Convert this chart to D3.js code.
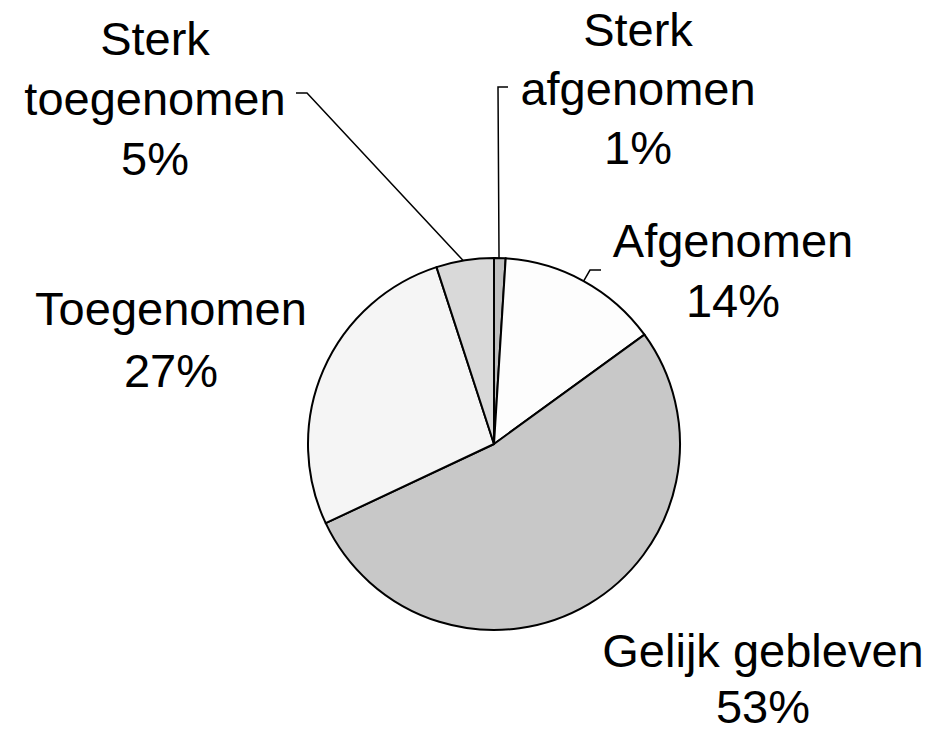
<!DOCTYPE html>
<html>
<head>
<meta charset="utf-8">
<title>pie</title>
<script src="https://d3js.org/d3.v7.min.js"></script>
<style>
  body { margin: 0; background: #fff; }
  text { font-family: "Liberation Sans", Arial, sans-serif; font-size: 47px; fill: #000; }
</style>
</head>
<body>
<svg width="931" height="734" id="mainsvg"></svg>
<script>
// data, clockwise from 12 o'clock
const names = [['Sterk', 'afgenomen'], ['Afgenomen'], ['Gelijk gebleven'], ['Toegenomen'], ['Sterk', 'toegenomen']];
const values = [1, 14, 53, 27, 5];
const fills = ['#c0c0c0', '#fdfdfd', '#c8c8c8', '#f5f5f5', '#d9d9d9'];

// where the label blocks sit (centre x, first baseline y, line step)
const labelPos = [[638, 46, 59], [733, 257, 60], [763, 667, 56], [171, 325, 62], [155, 55, 60]];

const svg = d3.select('#mainsvg');
const cx = 494, cy = 444, r = 186;
const g = svg.append('g').attr('transform', `translate(${cx},${cy})`);

const pie = d3.pie().sort(null).value(d => d);
const arcs = pie(values);
const arc = d3.arc().innerRadius(0).outerRadius(r);

g.selectAll('path.slice').data(arcs).enter().append('path')
  .attr('class', 'slice')
  .attr('d', arc)
  .attr('fill', (d, i) => fills[i])
  .attr('stroke', '#000')
  .attr('stroke-width', 2)
  .attr('stroke-linejoin', 'round');

// labels
names.forEach((lines, i) => {
  const [x, y, step] = labelPos[i];
  const t = svg.append('text')
    .attr('text-anchor', 'middle')
    .attr('x', x)
    .attr('y', y);
  lines.concat([values[i] + '%']).forEach((s, k) => {
    t.append('tspan').attr('x', x).attr('dy', k === 0 ? 0 : step).text(s);
  });
});

// leader lines for the small slices: from the outer edge of the slice to a tick near the text
function edgePoint(i, frac) {
  const a = arcs[i].startAngle + (arcs[i].endAngle - arcs[i].startAngle) * frac;
  return [cx + r * Math.sin(a), cy - r * Math.cos(a)];
}
const leaders = [
  { slice: 0, frac: 0.43, bend: [498, 87], end: [508, 87] },
  { slice: 4, frac: 0.47, bend: [307, 93], end: [296, 93] },
  { slice: 1, frac: 0.5, bend: [590, 270], end: [601, 270] }
];
leaders.forEach(l => {
  const p = edgePoint(l.slice, l.frac);
  svg.append('polyline')
    .attr('points', [p, l.bend, l.end].map(q => q.join(',')).join(' '))
    .attr('fill', 'none')
    .attr('stroke', '#000')
    .attr('stroke-width', 1.5);
});
</script>
</body>
</html>
